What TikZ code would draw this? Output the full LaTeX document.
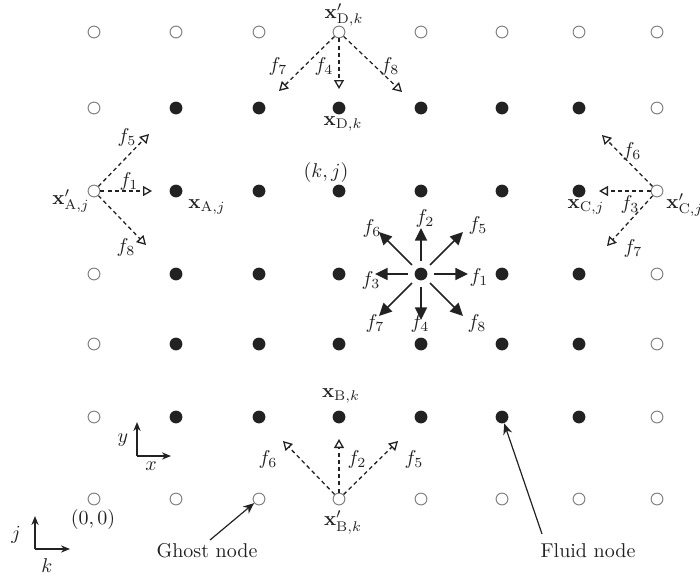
\documentclass[tikz,border=0pt]{standalone}
\usetikzlibrary{arrows.meta}
\definecolor{ink}{HTML}{222222}
\definecolor{ring}{HTML}{808080}
\begin{document}
\begin{tikzpicture}[x=0.5pt,y=-0.5pt,
  fluid/.style={circle,fill=ink,inner sep=0pt,minimum size=6.4pt},
  ghost/.style={circle,draw=ring,line width=0.5pt,fill=white,inner sep=0pt,minimum size=5.9pt},
  lbl/.style={inner sep=0pt,text=ink},
  stream/.style={ink,line width=0.65pt,dash pattern=on 2pt off 1.6pt,
    -{Triangle[open,length=4.5pt,width=5pt,line width=0.65pt]}},
  velo/.style={ink,line width=0.8pt,shorten <=3pt,-{Triangle[length=6.3pt,width=6pt]}},
  axis/.style={ink,line width=0.6pt,-{Stealth[length=4.5pt,width=3.6pt]}},
  pointer/.style={ink,line width=0.6pt,-{Stealth[length=5.5pt,width=4.6pt]}}]
\useasboundingbox (0,0) rectangle (700,580);

% lattice: ghost nodes on the outer ring, fluid nodes inside
\foreach \x [count=\c] in {94,176,259,339,421,502,579,657} {
  \foreach \y [count=\r] in {499,417,344,274,191,108,32} {
    \pgfmathtruncatemacro\fl{(\c>1)*(\c<8)*(\r>1)*(\r<7)}
    \ifnum\fl=1
      \node[fluid] (n-\c-\r) at (\x,\y) {};
    \else
      \node[ghost] (n-\c-\r) at (\x,\y) {};
    \fi
  }
}

% centre node: the eight lattice velocities
\coordinate (c1) at (468,274);
\coordinate (c2) at (421,228);
\coordinate (c3) at (375,274);
\coordinate (c4) at (421,320);
\coordinate (c5) at (463,232);
\coordinate (c6) at (379,232);
\coordinate (c7) at (379,316);
\coordinate (c8) at (463,316);
\foreach \i in {1,...,8} \draw[velo] (n-5-4) -- (c\i);
\node[lbl] (lc1) at (479,277) {$f_1$};
\node[lbl] (lc2) at (425,218) {$f_2$};
\node[lbl] (lc3) at (371,280) {$f_3$};
\node[lbl] (lc4) at (420,323) {$f_4$};
\node[lbl] (lc5) at (478,225) {$f_5$};
\node[lbl] (lc6) at (372,228) {$f_6$};
\node[lbl] (lc7) at (375,323) {$f_7$};
\node[lbl] (lc8) at (477,323) {$f_8$};
\node[lbl] (kj) at (326,172) {$(k,j)$};

% boundary A (left)
\coordinate (a5) at (149,134);
\coordinate (a1) at (152,191);
\coordinate (a8) at (146,245);
\foreach \i in {5,1,8} \draw[stream] (n-1-5) -- (a\i);
\node[lbl] (la5) at (127,137) {$f_5$};
\node[lbl] (la1) at (129,181) {$f_1$};
\node[lbl] (la8) at (126,247) {$f_8$};
\node[lbl,anchor=east] (xa1) at (90,201) {$\mathbf{x}'_{\mathrm{A},j}$};
\node[lbl] (xa) at (207,207) {$\mathbf{x}_{\mathrm{A},j}$};

% boundary C (right)
\coordinate (e6) at (602,135);
\coordinate (e3) at (599,191);
\coordinate (e7) at (607,246);
\foreach \i in {6,3,7} \draw[stream] (n-8-5) -- (e\i);
\node[lbl] (le6) at (632,151) {$f_6$};
\node[lbl] (le3) at (630,204) {$f_3$};
\node[lbl] (le7) at (633,248) {$f_7$};
\node[lbl] (xc) at (586,207) {$\mathbf{x}_{\mathrm{C},j}$};
\node[lbl,anchor=west] (xc1) at (666,205) {$\mathbf{x}'_{\mathrm{C},j}$};

% boundary D (top)
\coordinate (d7) at (279,91);
\coordinate (d4) at (339,89);
\coordinate (d8) at (402,92);
\foreach \i in {7,4,8} \draw[stream] (n-4-7) -- (d\i);
\node[lbl] (ld7) at (278,66) {$f_7$};
\node[lbl] (ld4) at (324,66) {$f_4$};
\node[lbl] (ld8) at (390,66) {$f_8$};
\node[lbl] (xd1) at (344,15) {$\mathbf{x}'_{\mathrm{D},k}$};
\node[lbl] (xd) at (343,124) {$\mathbf{x}_{\mathrm{D},k}$};

% boundary B (bottom)
\coordinate (b6) at (283,441);
\coordinate (b2) at (339,439);
\coordinate (b5) at (398,441);
\foreach \i in {6,2,5} \draw[stream] (n-4-1) -- (b\i);
\node[lbl] (lb6) at (268,459) {$f_6$};
\node[lbl] (lb2) at (357,459) {$f_2$};
\node[lbl] (lb5) at (414,459) {$f_5$};
\node[lbl] (xb) at (341,396) {$\mathbf{x}_{\mathrm{B},k}$};
\node[lbl] (xb1) at (343,522) {$\mathbf{x}'_{\mathrm{B},k}$};

% physical axes
\coordinate (o1) at (137,456);
\coordinate (oy) at (137,422);
\coordinate (ox) at (171,456);
\draw[axis] (o1) -- (oy);
\draw[axis] (o1) -- (ox);
\node[lbl] (ly) at (123,440) {$y$};
\node[lbl] (lx) at (151,466) {$x$};

% index axes
\coordinate (o2) at (35,549);
\coordinate (oj) at (35,516);
\coordinate (ok) at (70,549);
\draw[axis] (o2) -- (oj);
\draw[axis] (o2) -- (ok);
\node[lbl] (lj) at (16,535) {$j$};
\node[lbl] (lk) at (47,566) {$k$};
\node[lbl] (orig) at (93,519) {$(0,0)$};

% callouts
\node[lbl] (gh) at (207,551) {Ghost node};
\coordinate (gt) at (210,540);
\draw[pointer] (gt) -- (n-3-1);
\node[lbl] (fl) at (588,551) {Fluid node};
\coordinate (ft) at (542,534);
\draw[pointer] (ft) -- (n-6-2);
\end{tikzpicture}
\end{document}
